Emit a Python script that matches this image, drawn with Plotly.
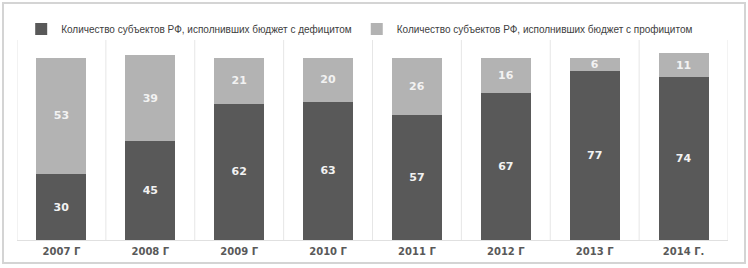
import plotly.graph_objects as go

categories = ["2007 Г", "2008 Г", "2009 Г", "2010 Г", "2011 Г", "2012 Г", "2013 Г", "2014 Г."]
deficit = [30, 45, 62, 63, 57, 67, 77, 74]
surplus = [53, 39, 21, 20, 26, 16, 6, 11]
name_deficit = "Количество субъектов РФ, исполнивших бюджет с дефицитом"
name_surplus = "Количество субъектов РФ, исполнивших бюджет с профицитом"

W, H = 748, 268
ml, mr, mt, mb = 17, 20, 40, 28
pw = W - ml - mr
ph = H - mt - mb
n = len(categories)
xs = list(range(n))

fig = go.Figure()
for vals, name, color in [(deficit, name_deficit, "#595959"), (surplus, name_surplus, "#b3b3b3")]:
    fig.add_trace(go.Bar(
        x=xs, y=vals, name=name,
        marker=dict(color=color, line=dict(width=0)),
        text=vals, textposition="inside", insidetextanchor="middle",
        textangle=0, constraintext="none",
        textfont=dict(color="#f2f2f2", size=11, family="DejaVu Sans", weight="bold"),
    ))

shapes = []
for i in range(n + 1):
    shapes.append(dict(type="line", xref="x", yref="paper",
                       x0=i - 0.5, x1=i - 0.5, y0=0, y1=1,
                       line=dict(color="#e6e6e6", width=1), layer="below"))
shapes.append(dict(type="rect", xref="paper", yref="paper",
                   x0=(3 - ml) / pw, x1=(745 - ml) / pw,
                   y0=-(263 - (H - mb)) / ph, y1=1 + (mt - 3) / ph,
                   line=dict(color="#d4d4d4", width=2), layer="below"))

fig.update_layout(
    width=W, height=H,
    margin=dict(l=ml, r=mr, t=mt, b=mb, autoexpand=False),
    paper_bgcolor="white", plot_bgcolor="white",
    barmode="stack", bargap=0.4375,
    showlegend=True,
    legend=dict(orientation="h", x=0.482, xanchor="center", y=1.055, yanchor="middle",
                font=dict(family="Liberation Sans", size=10, color="#404040"),
                itemwidth=30, traceorder="normal", bgcolor="rgba(0,0,0,0)"),
    xaxis=dict(tickmode="array", tickvals=xs, ticktext=categories,
               range=[-0.5, n - 0.5], showgrid=False, zeroline=False,
               showline=True, linecolor="#e0e0e0", linewidth=1, ticks="",
               tickfont=dict(family="DejaVu Sans", size=10, color="#595959", weight="bold"),
               ticklabelstandoff=2),
    yaxis=dict(range=[0, 91], visible=False, showgrid=False, zeroline=False),
    shapes=shapes,
    font=dict(family="DejaVu Sans"),
)

fig.write_html("out.html", config={"displayModeBar": False},
               post_script="document.body.style.margin='0';")
